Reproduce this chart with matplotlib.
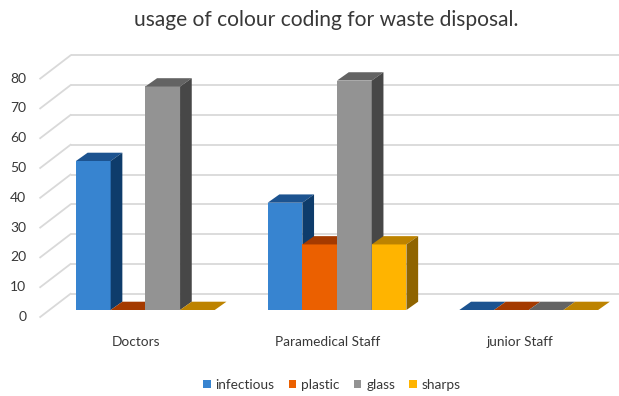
import matplotlib
matplotlib.use("Agg")
import matplotlib.pyplot as plt
from matplotlib.patches import Polygon, Patch

# ---- data ----
categories = ["Doctors", "Paramedical Staff", "junior Staff"]
series_names = ["infectious", "plastic", "glass", "sharps"]
infectious = [50, 36, 0]
plastic = [0, 22, 0]
glass = [75, 77, 0]
sharps = [0, 22, 0]
y_ticks = [0, 10, 20, 30, 40, 50, 60, 70, 80]
title = "usage of colour coding for waste disposal."

series_values = [infectious, plastic, glass, sharps]

# ---- style ----
front_cols = ["#3784D0", "#EB6000", "#939393", "#FFB400"]
top_cols = ["#1C5390", "#A43A00", "#636363", "#BD8300"]
side_cols = ["#0E3C6B", "#7A2C00", "#474747", "#8F6400"]
text_col = "#383838"
grid_col = "#D9D9D9"
FONT = ["Lato", "DejaVu Sans"]
plt.rcParams["font.family"] = FONT

W, H = 619, 396
fig = plt.figure(figsize=(W / 100, H / 100), dpi=100)
fig.patch.set_facecolor("white")

# bar (plane) axes in pixel layout
left_px, right_px = 49.5, 624.6
base_px, top_px = 310.0, 71.6
ax = fig.add_axes([left_px / W, (H - base_px) / H,
                   (right_px - left_px) / W, (base_px - top_px) / H])
ax.set_xlim(-0.5, len(categories) - 0.5)
ax.set_ylim(0, 80)
ax.axis("off")

ppx = (right_px - left_px) / len(categories)   # px per category unit
ppy = (base_px - top_px) / 80.0                 # px per value unit

# depth offsets (in data units)
bdx, bdy = 11.7 / ppx, 8.3 / ppy      # bar depth
wdx, wdy = 21.0 / ppx, 16.2 / ppy     # back wall
fdx, fdy = -9.3 / ppx, -7.0 / ppy     # front plane

bar_w = 34.7 / ppx
n = len(series_names)

# back wall gridlines + side-wall diagonals
x_left = -0.5
for t in y_ticks:
    ax.plot([x_left + wdx, len(categories) + 1], [t + wdy, t + wdy],
            color=grid_col, lw=1.3, clip_on=False, zorder=1,
            solid_capstyle="butt")
    ax.plot([x_left + fdx, x_left + wdx], [t + fdy, t + wdy],
            color=grid_col, lw=1.3, clip_on=False, zorder=1)
    ax.text(x_left + fdx - 14 / ppx, t + fdy, str(t), ha="right",
            va="center", fontsize=10, color=text_col)

# bars, drawn left to right
z = 10
for i, cat in enumerate(categories):
    for j in range(n):
        v = series_values[j][i]
        x0 = i + (j - n / 2) * bar_w
        x1 = x0 + bar_w
        ax.bar(x0, v, width=bar_w, align="edge", color=front_cols[j],
               edgecolor="none", zorder=z, clip_on=False)
        ax.add_patch(Polygon([(x0, v), (x1, v), (x1 + bdx, v + bdy),
                              (x0 + bdx, v + bdy)], closed=True,
                             facecolor=top_cols[j], edgecolor="none",
                             zorder=z + 1, clip_on=False))
        if v > 0:
            ax.add_patch(Polygon([(x1, 0), (x1 + bdx, bdy), (x1 + bdx, v + bdy),
                                  (x1, v)], closed=True,
                                 facecolor=side_cols[j], edgecolor="none",
                                 zorder=z + 1, clip_on=False))
        z += 3
    ax.text(i + fdx, -31.7 / ppy, cat, ha="center", va="center",
            fontsize=9.8, color=text_col)

fig.text(326 / W, 1 - 20 / H, title, ha="center", va="center",
         fontsize=15.1, color=text_col)

handles = [Patch(facecolor=c, edgecolor="none") for c in front_cols]
fig.legend(handles, series_names, loc="center", ncol=4,
           bbox_to_anchor=(332 / W, 1 - 385 / H), frameon=False,
           fontsize=9.8, handlelength=0.55, handleheight=0.55,
           handletextpad=0.35, columnspacing=1.05, labelcolor=text_col)

fig.savefig("out.png", dpi=100, facecolor="white")
